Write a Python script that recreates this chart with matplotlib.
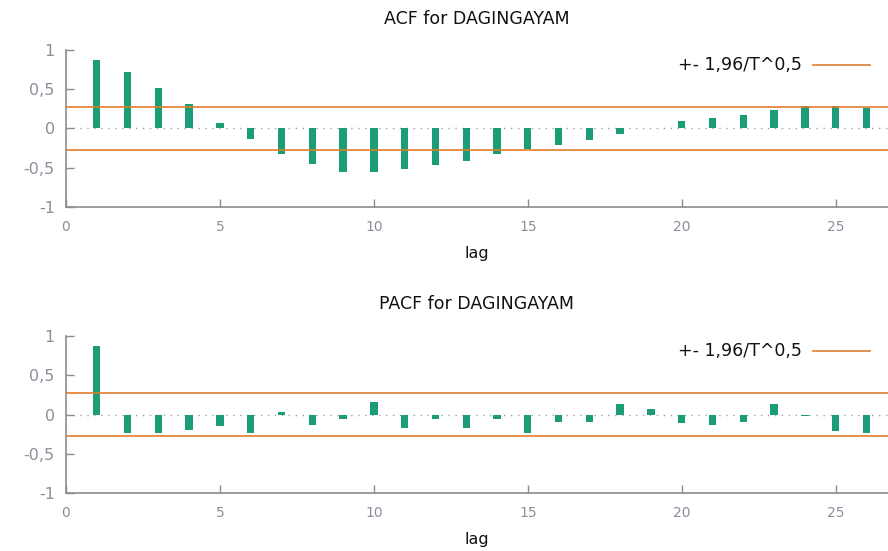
import matplotlib
matplotlib.use("Agg")
import matplotlib.pyplot as plt
import numpy as np

lags = list(range(1, 27))
acf_vals = [0.87, 0.72, 0.52, 0.31, 0.076, -0.136, -0.32, -0.455, -0.548, -0.548,
            -0.514, -0.47, -0.41, -0.32, -0.26, -0.21, -0.15, -0.076, 0.01, 0.098,
            0.14, 0.17, 0.23, 0.29, 0.29, 0.26]
pacf_vals = [0.87, -0.24, -0.23, -0.20, -0.15, -0.23, 0.034, -0.135, -0.06, 0.157,
             -0.165, -0.06, -0.165, -0.06, -0.23, -0.09, -0.093, 0.136, 0.064, -0.106,
             -0.135, -0.09, 0.136, -0.017, -0.21, -0.23]
band = 0.277
titles = ["ACF for DAGINGAYAM", "PACF for DAGINGAYAM"]
legend_label = "+- 1,96/T^0,5"
yticks = [-1, -0.5, 0, 0.5, 1]
ytick_labels = ["-1", "-0,5", "0", "0,5", "1"]
xticks = [0, 5, 10, 15, 20, 25]

bar_color = "#1b9e77"
band_color = "#e07b2c"
axis_color = "#8c8c8c"
label_color = "#8a8f9c"

fig = plt.figure(figsize=(8.88, 5.51), dpi=100)
positions = [[0.0743, 0.6243, 0.9257, 0.285], [0.0743, 0.1047, 0.9257, 0.286]]

for pos, title, vals in zip(positions, titles, [acf_vals, pacf_vals]):
    ax = fig.add_axes(pos)
    ax.axhline(0, color="#a0a0a0", linestyle=(0, (1, 4)), linewidth=1, zorder=1)
    ax.bar(lags, vals, width=0.24, color=bar_color, zorder=2)
    ax.axhline(band, color=band_color, linewidth=1.2, zorder=3)
    ax.axhline(-band, color=band_color, linewidth=1.2, zorder=3)

    ax.set_xlim(0, 26.7)
    ax.set_ylim(-1, 1)
    ax.set_xticks(xticks)
    ax.set_yticks(yticks)
    ax.set_yticklabels(ytick_labels)
    ax.tick_params(axis="both", direction="in", length=6, width=1, color=axis_color,
                   labelcolor=label_color)
    ax.tick_params(axis="x", pad=9, labelsize=10)
    ax.tick_params(axis="y", pad=8, labelsize=11.5)
    for side in ["top", "right"]:
        ax.spines[side].set_visible(False)
    for side in ["left", "bottom"]:
        ax.spines[side].set_color(axis_color)
        ax.spines[side].set_linewidth(1.2)

    ax.set_title(title, fontsize=12.5, color="#111111", pad=19)
    ax.set_xlabel("lag", fontsize=11.5, color="#111111", labelpad=9)

    ax.text(0.895, 0.904, legend_label, transform=ax.transAxes, ha="right", va="center",
            fontsize=12.5, color="#111111")
    ax.plot([0.909, 0.978], [0.904, 0.904], transform=ax.transAxes, color=band_color,
            linewidth=1.2, clip_on=False)

fig.savefig("out.png", dpi=100)
